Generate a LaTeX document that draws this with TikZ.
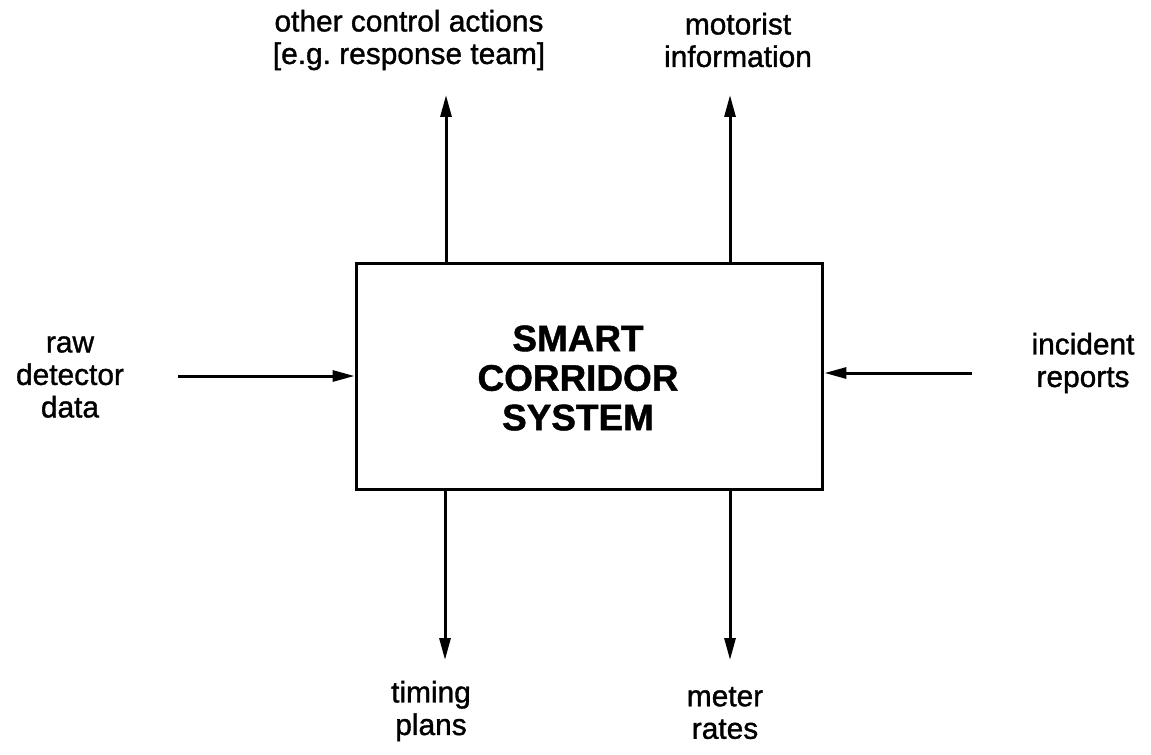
\documentclass[tikz,border=0pt]{standalone}
\usepackage{fontspec}
\setmainfont{Liberation Sans}
\newfontfamily\lblfont[FakeBold=1.2]{Liberation Sans}
\newfontfamily\boxfont[FakeBold=1.2]{Liberation Sans Bold}
\usetikzlibrary{arrows.meta}

\begin{document}
\begin{tikzpicture}[x=0.02cm,y=-0.02cm,
  flow/.style={line width=0.06cm,-{Triangle[length=0.44cm,width=0.22cm]}},
  lbl/.style={align=center,inner sep=0pt,font=\lblfont\fontsize{17}{18.5}\selectfont}]
\useasboundingbox (0,0) rectangle (1151,754);
% the system box
\node[draw,line width=0.06cm,minimum width=9.34cm,minimum height=4.54cm,inner sep=0pt] (scs) at (589.5,376.5) {};
\node[align=center,inner sep=0pt,font=\boxfont\fontsize{21}{22.5}\selectfont] (scstext) at (578,378) {SMART\\CORRIDOR\\SYSTEM};
% labels
\node[lbl] (raw) at (70,377) {raw\\detector\\data};
\node[lbl] (incident) at (1083,363) {incident\\reports};
\node[lbl] (other) at (409,40) {other control actions\\{[e.g.\ response team]}};
\node[lbl] (motorist) at (738,40) {motorist\\information};
\node[lbl] (timing) at (431,711) {timing\\plans};
\node[lbl] (meter) at (725,713) {meter\\rates};
% arrow ends
\coordinate (rawend) at (178,376);
\coordinate (incend) at (972,373);
\coordinate (othertip) at (446,95);
\coordinate (mottip) at (730,95);
\coordinate (timtip) at (445,660);
\coordinate (mettip) at (730,660);
% inputs
\draw[flow] (rawend) -- (rawend -| scs.west);
\draw[flow] (incend) -- (incend -| scs.east);
% outputs
\draw[flow] (othertip |- scs.north) -- (othertip);
\draw[flow] (mottip |- scs.north) -- (mottip);
\draw[flow] (timtip |- scs.south) -- (timtip);
\draw[flow] (mettip |- scs.south) -- (mettip);
\end{tikzpicture}
\end{document}
